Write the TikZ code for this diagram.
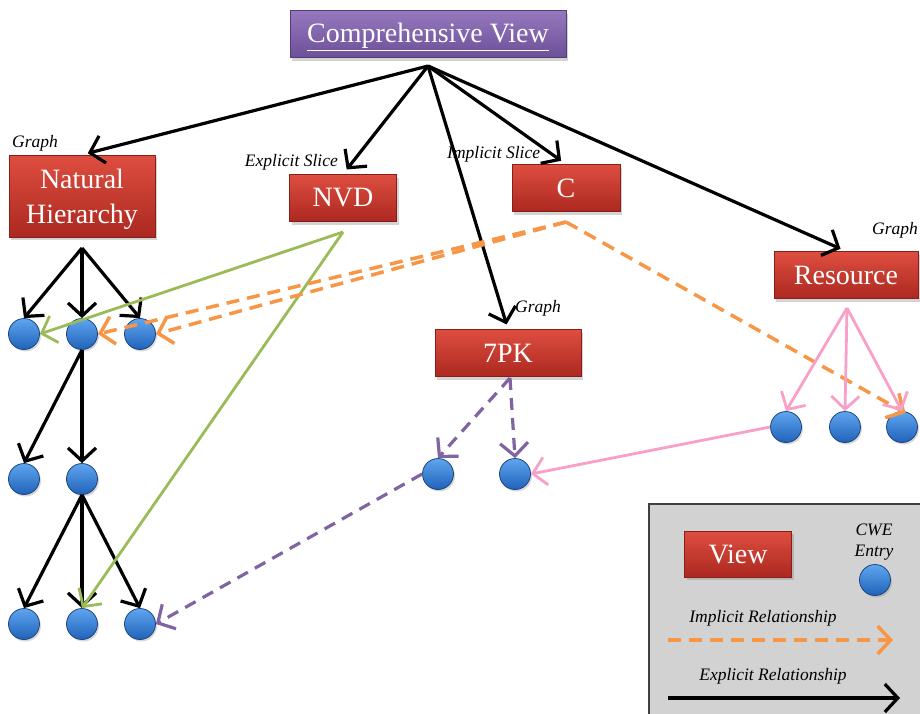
\documentclass[tikz,border=0pt]{standalone}
\usepackage{fontspec}
\setmainfont{Liberation Serif}
\usetikzlibrary{arrows.meta,shadows}
\definecolor{redtop}{RGB}{222,78,64}
\definecolor{redmid}{RGB}{200,52,42}
\definecolor{redbot}{RGB}{172,40,32}
\definecolor{redline}{RGB}{135,30,25}
\definecolor{purtop}{RGB}{150,120,190}
\definecolor{purmid}{RGB}{128,100,170}
\definecolor{purbot}{RGB}{108,80,152}
\definecolor{purline}{RGB}{85,60,120}
\definecolor{entrytop}{RGB}{95,165,240}
\definecolor{entrymid}{RGB}{48,122,212}
\definecolor{entrybot}{RGB}{32,98,185}
\definecolor{entryline}{RGB}{30,70,125}
\definecolor{orangec}{RGB}{247,150,70}
\definecolor{greenc}{RGB}{155,187,89}
\definecolor{purplec}{RGB}{128,100,162}
\definecolor{pinkc}{RGB}{248,160,200}
\definecolor{legendfill}{RGB}{210,210,210}
\begin{document}
\begin{tikzpicture}[x=1pt,y=-1pt,
  viewbox/.style={rectangle, draw=redline, line width=0.6pt, top color=redtop, middle color=redmid, bottom color=redbot,
    text=white, font=\fontsize{28}{35}\selectfont, inner sep=0pt,
    drop shadow={opacity=0.35, shadow xshift=2pt, shadow yshift=-3pt}},
  cvbox/.style={viewbox, draw=purline, top color=purtop, middle color=purmid, bottom color=purbot},
  entry/.style={circle, minimum size=31pt, inner sep=0pt, draw=entryline, line width=0.8pt,
    top color=entrytop, middle color=entrymid, bottom color=entrybot,
    drop shadow={opacity=0.3, shadow xshift=1.5pt, shadow yshift=-2pt}},
  lbl/.style={font=\fontsize{17.5}{21}\selectfont\itshape, inner sep=0pt},
  barb/.style={-{Straight Barb[length=13pt,width=28pt]}},
  explicitrel/.style={draw=black, line width=3.2pt, barb},
  implicitrel/.style={draw=orangec, line width=3.5pt, dash pattern=on 13pt off 8pt, barb},
  greenrel/.style={draw=greenc, line width=2.8pt, barb},
  purplerel/.style={draw=purplec, line width=3.2pt, dash pattern=on 12pt off 8pt, barb},
  pinkrel/.style={draw=pinkc, line width=2.8pt, barb}
]
\useasboundingbox (0,0) rectangle (920,713);

% main view boxes
\node[cvbox, minimum width=276pt, minimum height=47pt] (cv) at (428,34) {\raisebox{-3pt}[\height][\depth]{\underline{Comprehensive View}}};
\node[viewbox, minimum width=146pt, minimum height=82pt] (nh) at (82,196) {\raisebox{-3pt}[\height][\depth]{\begin{tabular}{@{}c@{}}Natural\\Hierarchy\end{tabular}}};
\node[viewbox, minimum width=107pt, minimum height=47pt] (nvd) at (343,198) {NVD};
\node[viewbox, minimum width=108pt, minimum height=47pt] (c) at (566,188) {C};
\node[viewbox, minimum width=146pt, minimum height=47pt] (pk) at (508,353) {7PK};
\node[viewbox, minimum width=144pt, minimum height=47pt] (res) at (846,275) {Resource};

% labels
\node[lbl, anchor=west] (l1) at (12,143) {Graph};
\node[lbl, anchor=east] (l2) at (338,162) {Explicit Slice};
\node[lbl, anchor=west] (l3) at (447,154) {Implicit Slice};
\node[lbl, anchor=west] (l4) at (515,308) {Graph};
\node[lbl, anchor=east] (l5) at (918,230) {Graph};

% entries
\node[entry] (r1a) at (24,334) {};
\node[entry] (r1b) at (82,334) {};
\node[entry] (r1c) at (140,334) {};
\node[entry] (r2a) at (24,479) {};
\node[entry] (r2b) at (82,479) {};
\node[entry] (r3a) at (24,624) {};
\node[entry] (r3b) at (82,624) {};
\node[entry] (r3c) at (140,624) {};
\node[entry] (k1) at (438,474) {};
\node[entry] (k2) at (515,474) {};
\node[entry] (s1) at (786,427) {};
\node[entry] (s2) at (845,427) {};
\node[entry] (s3) at (902,427) {};

% hub coordinates
\coordinate (hub) at (428,66);
\coordinate (nhb) at (82,248);
\coordinate (nvdb) at (343,232);
\coordinate (cb) at (566,222);
\coordinate (pkb) at (510,378);
\coordinate (resb) at (847,308);

% explicit from comprehensive view
\draw[explicitrel, shorten >=6pt] (hub) -- (nh.north);
\draw[explicitrel, shorten >=6pt] (hub) -- (nvd.north);
\draw[explicitrel, shorten >=6pt] (hub) -- (c.north);
\draw[explicitrel, shorten >=5pt] (hub) -- (pk.north);
\draw[explicitrel, shorten >=6pt] (hub) -- (res.north);

% natural hierarchy tree
\draw[explicitrel] (nhb) -- (r1a.north);
\draw[explicitrel] (nhb) -- (r1b.north);
\draw[explicitrel] (nhb) -- (r1c.north);
\draw[explicitrel] (r1b.south) -- (r2a.north);
\draw[explicitrel] (r1b.south) -- (r2b.north);
\draw[explicitrel] (r2b.south) -- (r3a.north);
\draw[explicitrel] (r2b.south) -- (r3b.north);
\draw[explicitrel] (r2b.south) -- (r3c.north);

% NVD (green)
\draw[greenrel] (nvdb) -- (r1a.east);
\draw[greenrel] (nvdb) -- (r3b.north);

% C (orange implicit)
\draw[implicitrel] (cb) -- (r1b.east);
\draw[implicitrel] (cb) -- (r1c.east);
\draw[implicitrel, shorten >=-4pt] (cb) -- (s3.north);

% 7PK (purple)
\draw[purplerel] (pkb) -- (k1.north);
\draw[purplerel] (pkb) -- (k2.north);
\draw[purplerel] (k1.west) -- (r3c.east);

% Resource (pink)
\draw[pinkrel] (resb) -- (s1.north);
\draw[pinkrel] (resb) -- (s2.north);
\draw[pinkrel] (resb) -- (s3.north);
\draw[pinkrel] (s1.west) -- (k2.east);

% legend
\node[draw=black!75, line width=1.5pt, fill=legendfill, anchor=north west, minimum width=290pt, minimum height=230pt, inner sep=0pt] (legend) at (648,503) {};
\node[viewbox, minimum width=107pt, minimum height=46pt] (lview) at (738,554) {View};
\node[lbl, align=center] (lcwe) at (874,542) {CWE\\Entry};
\node[entry] (lentry) at (875,580) {};
\node[lbl] (limpl) at (763,618) {Implicit Relationship};
\node[lbl] (lexpl) at (773,676) {Explicit Relationship};
\coordinate (li1) at (668,640);
\coordinate (li2) at (893,640);
\coordinate (le1) at (668,698);
\coordinate (le2) at (900,698);
\draw[implicitrel] (li1) -- (li2);
\draw[explicitrel] (le1) -- (le2);
\end{tikzpicture}
\end{document}
